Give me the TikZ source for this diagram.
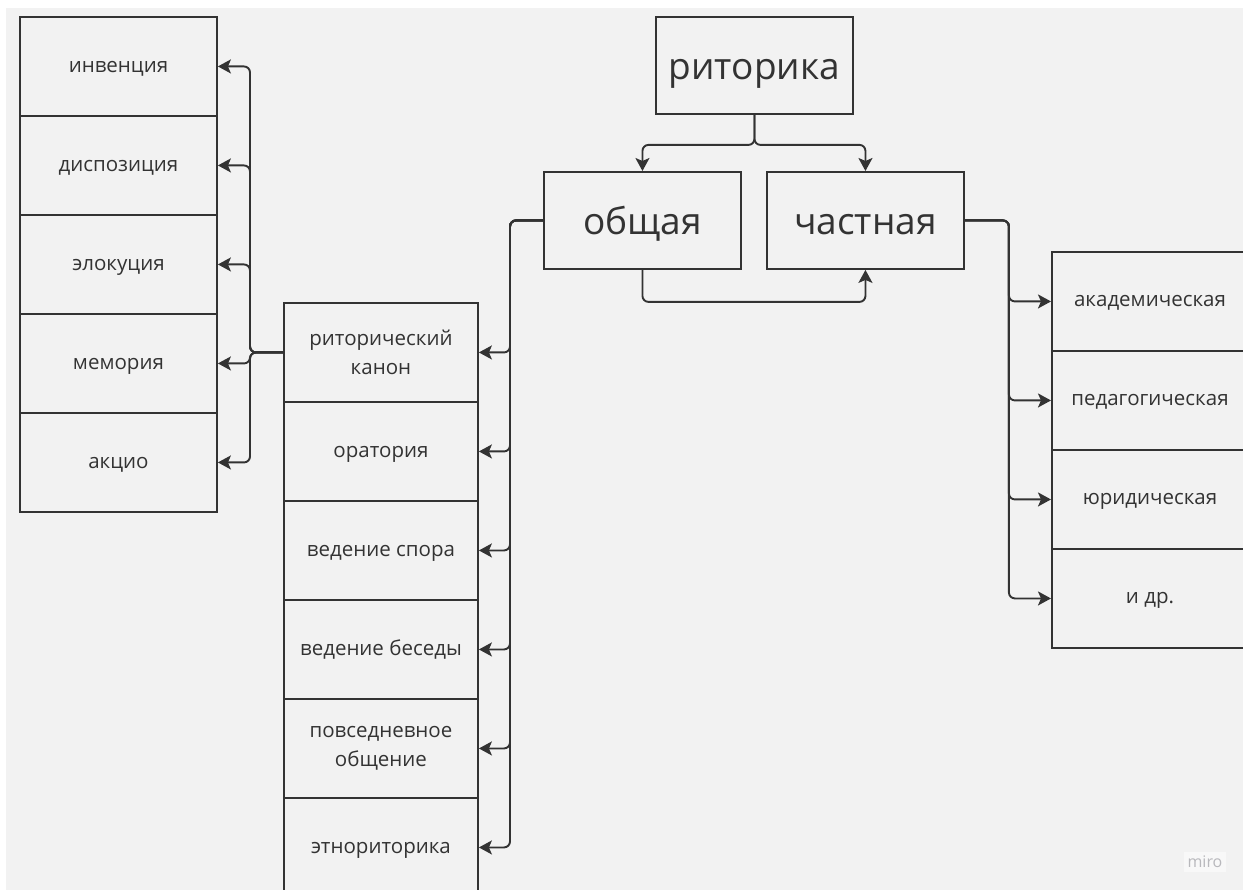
\documentclass[tikz,border=0pt]{standalone}
\usepackage{fontspec}
\setmainfont{Open Sans}
\usetikzlibrary{arrows.meta}
\definecolor{bg}{HTML}{F2F2F2}
\definecolor{ink}{HTML}{333333}
\definecolor{logo}{HTML}{B8B8BC}
\begin{document}
\begin{tikzpicture}[x=1pt,y=-1pt,
  box/.style={draw=ink,line width=1.9pt,fill=bg,text=ink,rectangle,anchor=north west,
    inner sep=0pt,font=\fontsize{20.5}{29}\selectfont},
  one/.style={text height=13pt,text depth=0pt},
  two/.style={align=center},
  bigbox/.style={box,text height=27.8pt,text depth=0pt,font=\fontsize{37}{40}\selectfont,minimum width=197pt,minimum height=97pt},
  lbox/.style={box,minimum width=197pt,minimum height=99pt},
  mbox/.style={box,minimum width=194pt,minimum height=99pt},
  rbox/.style={box,minimum width=200pt,minimum height=99pt},
  rtext/.style={text=ink,one,inner sep=0pt,font=\fontsize{20.5}{29}\selectfont},
  conn/.style={draw=ink,line width=1.9pt,rounded corners=6pt,-{Stealth[length=13pt,width=14pt,inset=3pt]}}]
\useasboundingbox (0,0) rectangle (1243,890);
\fill[white] (0,0) rectangle (1243,890);
\begin{scope}
\clip (0,0) rectangle (1243,890);
\fill[bg] (6,8) rectangle (1250,900);
% top
\node[bigbox] (rit) at (655,16) {риторика};
\node[bigbox] (gen) at (543,171) {общая};
\node[bigbox] (part) at (766,171) {частная};
% left column
\node[lbox,one] (inv) at (19,16) {инвенция};
\node[lbox,one] (disp) at (19,115) {диспозиция};
\node[lbox,one] (elok) at (19,214) {элокуция};
\node[lbox,one] (mem) at (19,313) {мемория};
\node[lbox,one] (akc) at (19,412) {акцио};
% middle column
\node[mbox,two] (canon) at (283,302) {риторический\\канон};
\node[mbox,one] (orat) at (283,401) {оратория};
\node[mbox,one] (spor) at (283,500) {ведение спора};
\node[mbox,one] (bes) at (283,599) {ведение беседы};
\node[mbox,two] (povs) at (283,698) {повседневное\\общение};
\node[mbox,one] (etno) at (283,797) {этнориторика};
% right column
\node[rbox] (acad) at (1051,251) {};
\node[rbox] (ped) at (1051,350) {};
\node[rbox] (jur) at (1051,449) {};
\node[rbox] (dr) at (1051,548) {};
\end{scope}
\node[rtext] (tacad) at (1150,300) {академическая};
\node[rtext] (tped) at (1150,399) {педагогическая};
\node[rtext] (tjur) at (1150,498) {юридическая};
\node[rtext] (tdr) at (1150,597) {и др.};
% connectors
\draw[conn] (rit.south) -- ++(0,30) -| (gen.north);
\draw[conn] (rit.south) -- ++(0,30) -| (part.north);
\draw[conn] (gen.south) -- ++(0,32) -| (part.south);
\foreach \t in {canon,orat,spor,bes,povs,etno}
  \draw[conn] (gen.west) -- ++(-33,0) |- (\t.east);
\foreach \t in {inv,disp,elok,mem,akc}
  \draw[conn] (canon.west) -- ++(-33,0) |- (\t.east);
\foreach \t in {acad,ped,jur,dr}
  \draw[conn] (part.east) -- ++(44,0) |- (\t.west);
% logo
\node[fill=white!50!bg,text=logo,font=\fontsize{16}{18}\selectfont,inner sep=4pt] (miro) at (1205,862) {miro};
\end{tikzpicture}
\end{document}
